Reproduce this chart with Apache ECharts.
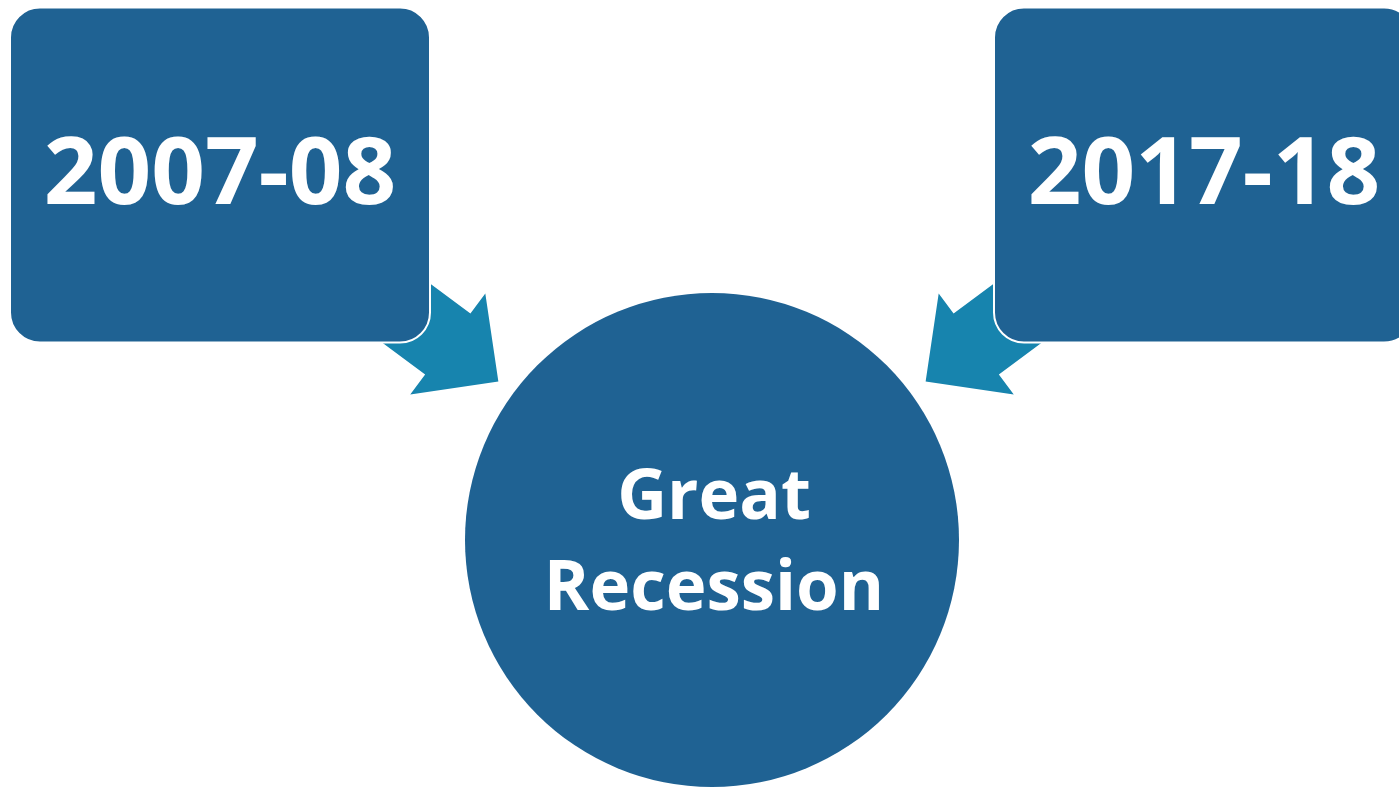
<!DOCTYPE html>
<html>
<head>
<meta charset="utf-8">
<title>Great Recession</title>
<script src="https://cdn.jsdelivr.net/npm/echarts@6/dist/echarts.min.js"></script>
<style>
  html, body { margin: 0; padding: 0; background: #fff; }
  #chart { width: 1399px; height: 793px; }
</style>
</head>
<body>
<div id="chart"></div>
<script>
// nodes of the diagram: two periods pointing at one outcome
const categories = ['2007-08', 'Great Recession', '2017-18'];
const periods = ['2007-08', '2017-18'];
const outcomeLines = ['Great', 'Recession'];
// [category index, level] : level 1 = top row, level 0 = bottom row
const nodePositions = [[0, 1], [2, 1], [1, 0]];

const boxColor = '#1f6293';
const arrowColor = '#1784ae';
const fontFamily = '"Open Sans", "Noto Sans", sans-serif';

const boxW = 420, boxH = 335, boxR = 30;
const circleR = 247;
const tipGap = 19;        // tip distance outside the circle
const headLen = 63, headHalf = 63, shaftHalf = 38, shaftLen = 130;

function arrowPoints(from, to) {
    const dx = to[0] - from[0], dy = to[1] - from[1];
    const d = Math.sqrt(dx * dx + dy * dy);
    const ux = dx / d, uy = dy / d;
    const vx = -uy, vy = ux;
    const tipD = d - circleR - tipGap;
    const baseD = tipD - headLen;
    const tailD = baseD - shaftLen;
    const at = (a, b) => [from[0] + ux * a + vx * b, from[1] + uy * a + vy * b];
    return [
        at(tailD, -shaftHalf),
        at(baseD, -shaftHalf),
        at(baseD, -headHalf),
        at(tipD, 0),
        at(baseD, headHalf),
        at(baseD, shaftHalf),
        at(tailD, shaftHalf)
    ];
}

function renderItem(params, api) {
    const i = params.dataIndex;
    const p = api.coord([api.value(0), api.value(1)]);
    if (i === 2) {
        return {
            type: 'group',
            children: [{
                type: 'circle',
                shape: { cx: p[0], cy: p[1], r: circleR },
                style: { fill: boxColor }
            }, {
                type: 'text',
                style: {
                    text: outcomeLines.join('\n'),
                    x: p[0] + 2, y: p[1] + 5,
                    align: 'center', verticalAlign: 'middle',
                    fill: '#fff', fontSize: 69, fontWeight: 'bold',
                    fontFamily: fontFamily, lineHeight: 91
                }
            }]
        };
    }
    const target = api.coord(nodePositions[2]);
    return {
        type: 'group',
        children: [{
            type: 'polygon',
            shape: { points: arrowPoints(p, target) },
            style: { fill: arrowColor }
        }, {
            type: 'rect',
            shape: { x: p[0] - boxW / 2, y: p[1] - boxH / 2, width: boxW, height: boxH, r: boxR },
            style: { fill: boxColor, stroke: '#fff', lineWidth: 2 }
        }, {
            type: 'text',
            style: {
                text: periods[i],
                x: p[0], y: p[1] + 2,
                align: 'center', verticalAlign: 'middle',
                fill: '#fff', fontSize: 94, fontWeight: 'bold',
                fontFamily: fontFamily
            }
        }]
    };
}

const chart = echarts.init(document.getElementById('chart'));
chart.setOption({
    animation: false,
    grid: { left: 220, right: 195, top: 175, bottom: 253 },
    xAxis: { type: 'category', data: categories, boundaryGap: false, show: false },
    yAxis: { type: 'value', min: 0, max: 1, show: false },
    series: [{
        type: 'custom',
        coordinateSystem: 'cartesian2d',
        renderItem: renderItem,
        clip: false,
        data: nodePositions
    }]
});
</script>
</body>
</html>
